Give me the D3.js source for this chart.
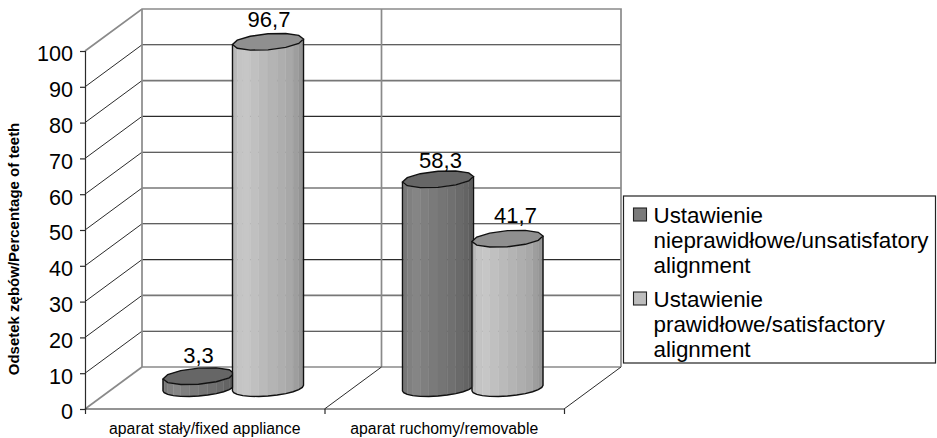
<!DOCTYPE html>
<html>
<head>
<meta charset="utf-8">
<script src="https://cdn.jsdelivr.net/npm/d3@7"></script>
<style>
html,body{margin:0;padding:0;background:#fff}
svg{display:block}
text{font-family:"Liberation Sans",Arial,sans-serif;fill:#000}
</style>
</head>
<body>
<svg id="chart" width="937" height="438"></svg>
<script>
const categories = ["aparat stały/fixed appliance", "aparat ruchomy/removable"];
const seriesNames = [
  ["Ustawienie", "nieprawidłowe/unsatisfatory", "alignment"],
  ["Ustawienie", "prawidłowe/satisfactory", "alignment"]
];
const unsatisfactory = [3.3, 58.3];
const satisfactory = [96.7, 41.7];
const valueLabels = [["3,3", "58,3"], ["96,7", "41,7"]];
const yTicks = [0, 10, 20, 30, 40, 50, 60, 70, 80, 90, 100];
const yTitle = "Odsetek zębów/Percentage of teeth";

const svg = d3.select("#chart");

// Oblique projection: depth pushes everything up and to the right.
const depth = {x: 57, y: -42};
const y = d3.scaleLinear().domain([0, 100]).range([409, 51]);
const x = d3.scaleBand().domain(categories).range([85, 564]);
const inner = d3.scaleBand().domain([0, 1]).range([0, x.bandwidth()]).paddingOuter(0.723);
const lineDark = "#2b2b2b", wallGrey = "#8a8a8a";

const backY = v => y(v) + depth.y;
const backX = v => v + depth.x;

// Gridlines on the back wall and the side wall
const grid = svg.append("g");
yTicks.slice(1, -1).forEach(v => {
  const heavy = v % 30 === 20;
  grid.append("line").attr("x1", backX(85)).attr("x2", backX(564))
    .attr("y1", backY(v)).attr("y2", backY(v))
    .attr("stroke", heavy ? "#777" : lineDark).attr("stroke-width", heavy ? 1.6 : 1.1);
  grid.append("line").attr("x1", 85).attr("y1", y(v))
    .attr("x2", backX(85)).attr("y2", backY(v))
    .attr("stroke", lineDark).attr("stroke-width", 1);
});

// Wall frame
const frame = [
  [[85, y(100)], [backX(85), backY(100)], [backX(564), backY(100)], [backX(564), backY(0)]],
  [[backX(85), backY(100)], [backX(85), backY(0)], [backX(564), backY(0)]],
  [[85, y(0)], [backX(85), backY(0)]],
  [[backX(x(categories[1])), backY(100)], [backX(x(categories[1])), backY(0)]]
];
frame.forEach(pts => grid.append("path")
  .attr("d", d3.line()(pts)).attr("fill", "none")
  .attr("stroke", wallGrey).attr("stroke-width", 1.7));

// Floor edges
[x(categories[1]), 564].forEach(px => {
  grid.append("line").attr("x1", px).attr("y1", y(0))
    .attr("x2", backX(px)).attr("y2", backY(0))
    .attr("stroke", lineDark).attr("stroke-width", 1);
});

// Axes
const axisY = d3.axisLeft(y).tickValues(yTicks).tickSize(5).tickPadding(7);
const gy = svg.append("g").attr("transform", "translate(85,0)").call(axisY);
gy.selectAll("path,line").attr("stroke", lineDark).attr("stroke-width", 1.2);
gy.selectAll("text").style("font-size", "21.6px").attr("fill", "#000").attr("y", 3)
  .style("font-family", '"Liberation Sans",Arial,sans-serif');

const axisX = d3.axisBottom(d3.scaleLinear().domain([85, 564]).range([85, 564]))
  .tickValues([85, x(categories[1]), 564]).tickSize(5).tickFormat("");
const gx = svg.append("g").attr("transform", `translate(0,${y(0)})`).call(axisX);
gx.select("path").attr("d", `M85,0H564`);
gx.selectAll("path,line").attr("stroke", lineDark).attr("stroke-width", 1.2);

svg.selectAll(".cat").data(categories).join("text").attr("class", "cat")
  .attr("x", d => x(d) + x.bandwidth() / 2)
  .attr("y", 434).attr("text-anchor", "middle")
  .style("font-size", "15.8px").text(d => d);

svg.append("text")
  .attr("transform", `translate(19,249) rotate(-90)`)
  .attr("text-anchor", "middle")
  .style("font-size", "15px").style("font-weight", "bold").text(yTitle);

// Cylinders
const rx = 33.6, shearX = 11.5, ry = 8.5;
const facetShades = {
  dark: ["#6d6d6d","#777777","#808080","#858585","#7f7f7f","#7a7a7a","#757575","#707070","#6a6a6a","#646464","#5e5e5e","#585858"],
  light: ["#aeaeae","#b8b8b8","#c4c4c4","#c6c6c6","#c0c0c0","#bababa","#b4b4b4","#aeaeae","#a8a8a8","#9e9e9e","#949494","#8a8a8a"]
};
const topFill = {dark: "#666666", light: "#8f8f8f"};

function cylinder(g, cx, baseY, topY, kind) {
  const pt = (t, yc) => [cx + rx * Math.cos(t) + shearX * Math.sin(t), yc - ry * Math.sin(t)];
  // Silhouette angles where the outline's x is extreme
  const tR = Math.atan2(shearX, rx), tL = tR + Math.PI;
  const n = facetShades[kind].length;
  const angle = d3.scaleLinear().domain([0, n]).range([tL, tR + 2 * Math.PI]);
  d3.range(n).forEach(i => {
    const a = pt(angle(i), baseY), b = pt(angle(i + 1), baseY);
    const c = pt(angle(i + 1), topY), e = pt(angle(i), topY);
    g.append("path").attr("d", d3.line()([a, b, c, e]) + "Z")
      .attr("fill", facetShades[kind][i])
      .attr("stroke", facetShades[kind][i]).attr("stroke-width", 0.4);
  });
  // Outline of the body
  const lower = d3.range(n + 1).map(i => pt(angle(i), baseY));
  const outline = [pt(tL, topY), ...lower, pt(tR, topY)];
  g.append("path").attr("d", d3.line()(outline)).attr("fill", "none")
    .attr("stroke", "#111").attr("stroke-width", 1.4);
  // Lid
  const lid = d3.range(12).map(i => pt(i / 12 * 2 * Math.PI + tR, topY));
  g.append("path").attr("d", d3.line().curve(d3.curveLinearClosed)(lid))
    .attr("fill", topFill[kind]).attr("stroke", "#111").attr("stroke-width", 1.4);
}

const barsLayer = svg.append("g");
const midDepthX = depth.x / 2, midDepthY = depth.y / 2;
const series = [
  {kind: "dark", values: unsatisfactory},
  {kind: "light", values: satisfactory}
];
// Small shifts that keep the value labels clear of their neighbours
const labelShiftX = [[0, 2.5], [1, 8]];
const labelGap = [[13, 11], [15, 16]];
categories.forEach((cat, ci) => {
  series.forEach((s, si) => {
    const cx = x(cat) + inner(si) + inner.bandwidth() / 2 + midDepthX;
    const baseY = y(0) + midDepthY;
    const topY = y(s.values[ci]) + midDepthY;
    cylinder(barsLayer.append("g"), cx, baseY, topY, s.kind);
    svg.append("text").attr("x", cx + labelShiftX[si][ci]).attr("y", topY - labelGap[si][ci])
      .attr("text-anchor", "middle").style("font-size", "22px")
      .text(valueLabels[si][ci]);
  });
});

// Legend
const legend = svg.append("g");
legend.append("rect").attr("x", 623.5).attr("y", 196).attr("width", 312).attr("height", 167)
  .attr("fill", "#fff").attr("stroke", "#222").attr("stroke-width", 1.2);
const rowTop = [208, 292];
series.forEach((s, si) => {
  legend.append("rect").attr("x", 633.5).attr("y", rowTop[si]).attr("width", 13).attr("height", 13)
    .attr("fill", s.kind === "dark" ? "#7b7b7b" : "#bdbdbd")
    .attr("stroke", "#222").attr("stroke-width", 1.1);
  seriesNames[si].forEach((line, li) => {
    legend.append("text").attr("x", 653.5).attr("y", rowTop[si] + 15 + li * 25)
      .style("font-size", "22.4px").text(line);
  });
});
</script>
</body>
</html>
